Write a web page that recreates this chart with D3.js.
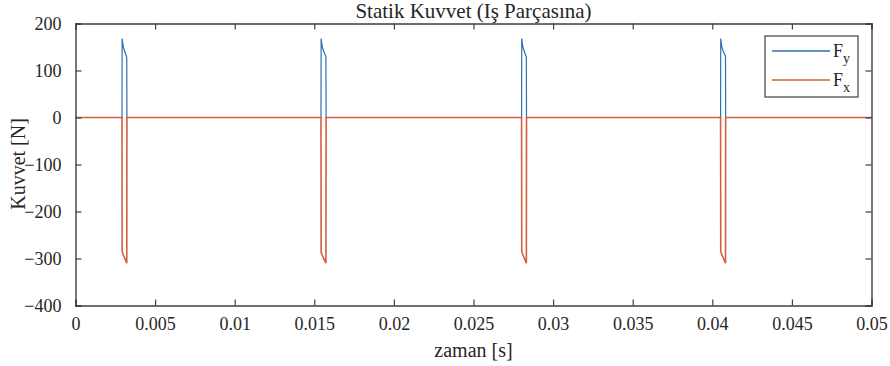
<!DOCTYPE html>
<html>
<head>
<meta charset="utf-8">
<script src="https://cdn.jsdelivr.net/npm/d3@7"></script>
<style>
  body { margin: 0; background: #fff; }
  svg text { font-family: 'Liberation Serif', 'Times New Roman', serif; fill: #262626; }
</style>
</head>
<body>
<div id="chart"></div>
<script>
// time points [s] and force values [N]
var time = [0,
  0.00292, 0.00293, 0.00300, 0.00310, 0.00322, 0.00323,
  0.01542, 0.01543, 0.01550, 0.01560, 0.01573, 0.01574,
  0.02802, 0.02803, 0.02810, 0.02820, 0.02832, 0.02833,
  0.04052, 0.04053, 0.04060, 0.04070, 0.04083, 0.04084,
  0.05];
var forceY = [0,
  0, 168, 150, 140, 128, 0,
  0, 168, 150, 140, 130, 0,
  0, 168, 150, 140, 128, 0,
  0, 168, 150, 140, 130, 0,
  0];
var forceX = [0,
  0, -285, -292, -300, -310, 0,
  0, -287, -293, -301, -310, 0,
  0, -285, -292, -300, -310, 0,
  0, -285, -292, -300, -310, 0,
  0];

var xTicks = [0, 0.005, 0.01, 0.015, 0.02, 0.025, 0.03, 0.035, 0.04, 0.045, 0.05];
var yTicks = [200, 100, 0, -100, -200, -300, -400];

var seriesNames = ["y", "x"];
var seriesColors = ["#2f6fb3", "#d4603a"];
var seriesWidths = [1.2, 1.6];

var width = 890,
    height = 366;
var margin = {left: 75.5, right: 18.5, top: 23.5, bottom: 60.5};

var svg = d3.select("#chart")
            .append("svg")
            .attr("width", width)
            .attr("height", height);

var x = d3.scaleLinear().domain([0, 0.05]).range([margin.left, width - margin.right]);
var y = d3.scaleLinear().domain([-400, 200]).range([height - margin.bottom, margin.top]);

var fmtX = function(d) { return d === 0 ? "0" : String(+d.toFixed(3)); };

// lines: Fy first, Fx on top (Fx covers the zero line)
var series = [forceY, forceX];
var line = d3.line()
  .x(function(d, i) { return x(time[i]); })
  .y(function(d) { return y(d); });

svg.append("g").selectAll("path")
  .data(series)
  .enter()
  .append("path")
  .attr("d", line)
  .attr("fill", "none")
  .attr("stroke", function(d, i) { return seriesColors[i]; })
  .attr("stroke-width", function(d, i) { return seriesWidths[i]; });

// axes (ticks inward, box on)
var bottomAxis = svg.append("g")
  .attr("transform", "translate(0," + y(-400) + ")")
  .call(d3.axisBottom(x).tickValues(xTicks).tickSize(-6).tickPadding(12).tickFormat(fmtX));
var topAxis = svg.append("g")
  .attr("transform", "translate(0," + y(200) + ")")
  .call(d3.axisTop(x).tickValues(xTicks).tickSize(-6).tickFormat(""));
var leftAxis = svg.append("g")
  .attr("transform", "translate(" + x(0) + ",0)")
  .call(d3.axisLeft(y).tickValues(yTicks).tickSize(-6).tickPadding(14));
var rightAxis = svg.append("g")
  .attr("transform", "translate(" + x(0.05) + ",0)")
  .call(d3.axisRight(y).tickValues(yTicks).tickSize(-6).tickFormat(""));

[bottomAxis, topAxis, leftAxis, rightAxis].forEach(function(a) {
  a.attr("font-family", null);
  a.select(".domain").attr("stroke", "#404040").attr("stroke-width", 1.4);
  a.selectAll(".tick line").attr("stroke", "#404040").attr("stroke-width", 1.2);
  a.selectAll(".tick text").style("font-size", "18px").attr("fill", "#262626");
});

// title and labels
svg.append("text")
  .attr("x", (x(0) + x(0.05)) / 2)
  .attr("y", 18)
  .attr("text-anchor", "middle")
  .style("font-size", "21px")
  .text("Statik Kuvvet (Iş Parçasına)");

svg.append("text")
  .attr("x", (x(0) + x(0.05)) / 2)
  .attr("y", 357)
  .attr("text-anchor", "middle")
  .style("font-size", "20px")
  .text("zaman [s]");

svg.append("text")
  .attr("transform", "translate(25,164) rotate(-90)")
  .attr("text-anchor", "middle")
  .style("font-size", "20px")
  .text("Kuvvet [N]");

// legend
var legend = svg.append("g").attr("transform", "translate(765,36)");
legend.append("rect")
  .attr("width", 93)
  .attr("height", 61)
  .attr("fill", "#fff")
  .attr("stroke", "#404040")
  .attr("stroke-width", 1.2);

var items = legend.selectAll("g.item")
  .data(seriesNames)
  .enter()
  .append("g")
  .attr("class", "item")
  .attr("transform", function(d, i) { return "translate(0," + (15 + i * 29) + ")"; });

items.append("line")
  .attr("x1", 7).attr("x2", 65)
  .attr("stroke", function(d, i) { return seriesColors[i]; })
  .attr("stroke-width", 1.3);

var lt = items.append("text")
  .attr("x", 68)
  .attr("y", 6)
  .style("font-size", "18px");
lt.append("tspan").text("F");
lt.append("tspan").attr("dy", 6).style("font-size", "14px").text(function(d) { return d; });
</script>
</body>
</html>
